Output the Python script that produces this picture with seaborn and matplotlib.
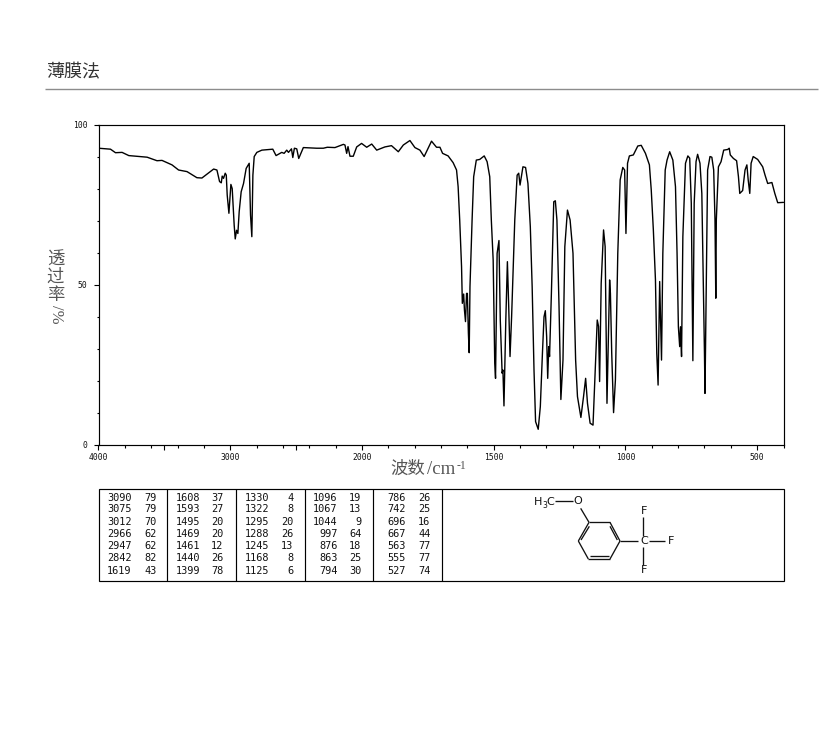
import numpy as np
import matplotlib
matplotlib.use("Agg")
import matplotlib.pyplot as plt
from matplotlib.patches import Rectangle
from matplotlib.ticker import FixedLocator, FixedFormatter
import seaborn as sns

wavenumber = [4000,3909,3871,3821,3770,3631,3556,3518,3442,3392,3328,3253,3215,3177,3126,3101,3081,3068,3061,3051,3038,3030,3023,3010,2995,2985,2970,2962,2952,2942,2932,2917,2899,2879,2856,2846,2836,2828,2818,2798,2760,2677,2652,2609,2591,2571,2558,2535,2525,2513,2495,2480,2445,2344,2293,2263,2205,2141,2129,2116,2106,2091,2066,2040,2003,1982,1963,1944,1932,1913,1888,1862,1843,1818,1799,1780,1764,1736,1717,
1704,1694,1673,1654,1641,1635,1629,1622,1619,1614,1611,1607,1603,1600,1596,1593,1590,1582,1576,1566,1553,1536,1525,1515,1509,1502,1496,1493,1487,1480,1475,1468,1465,1461,1454,1448,1443,1438,1432,1420,1411,1405,1400,1389,1379,1370,1361,1354,1347,1341,1331,1323,1315,1309,1304,1299,1295,1291,1288,1281,1272,1266,1260,1252,1245,1237,1230,1220,1210,1199,1189,1182,1169,1159,1151,1144,1134,1123,1115,1107,1102,1098,1092,1083,1077,1070,1060,1057,1052,1045,1038,1029,1020,1010,1003,998,992,985,970,953,940,
924,909,902,894,886,881,876,870,863,858,849,842,832,820,810,804,799,794,791,787,782,772,763,756,750,744,739,732,726,717,710,705,700,698,694,688,679,672,665,660,657,655,647,637,627,612,606,602,590,578,571,566,555,546,539,534,528,523,515,498,479,470,460,444,433,422,400]

transmittance = [92.6,92.3,91.2,91.3,90.3,89.8,88.7,88.8,87.4,85.8,85.3,83.4,83.3,84.5,86.1,85.8,82.2,81.8,83.9,83.2,84.8,84.2,78,72.3,81.3,80,68.6,64.3,67,66,72.8,79,81.6,86.3,87.9,71.8,65,84.2,90,91.3,92,92.3,90.3,91.3,91,92,91.3,92.4,89.7,92.6,92.4,89.4,92.8,92.6,92.6,92.9,92.8,93.8,93.6,91,93.1,90.1,90.1,93,94.1,92.9,93.9,92,92.4,93,93.4,91.5,93.6,95,92.8,92,90,94.8,92.9,
92.9,91,90.2,88.1,85.8,80.6,70.2,55.6,44.2,47.1,42.1,38.5,47.3,47.3,34.8,28.8,49.4,70.2,83.7,88.9,89.1,90.2,88.4,83.7,70.2,57.7,25.5,20.8,59.8,63.8,39,22.4,23.4,12.2,39,57.2,43.2,27.6,40,70.2,84.2,84.8,81.1,86.8,86.6,81.6,68.1,49.4,23.4,7.3,4.9,12,28.6,40,41.9,33.8,20.8,30.7,27.6,47.3,75.9,76.2,70.2,43.2,14.2,26.5,61.9,73.3,70.2,59.8,26.5,15.1,8.6,15.1,20.8,13,6.8,6.2,22.4,39,37,19.8,50.4,67.1,61.9,13,51.5,47.3,28.6,10.1,20.3,59.8,82.7,86.6,85.8,66,87.9,90.2,90.5,93.3,93.5,
91,87.4,79.6,67.1,51.5,28.6,18.7,51,26.5,59.8,85.8,88.9,91.5,88.9,80.6,59.8,36.9,30.7,36.9,27.6,65,87.9,90.2,89.5,75.4,26.3,75.4,88.4,90.7,87.9,78.5,53.6,28.6,16.1,44.2,85.8,90,89.8,85.8,70.2,45.8,70.2,86.8,88.4,92,92.2,92.6,90.5,89.4,88.7,83.7,78.5,79.4,85.8,87.4,82.7,78.5,87.9,90,89.1,86.8,84.2,81.6,81.9,78.5,75.6,75.7]

x_major = [4000,3500,3000,2500,2000,1500,1000,500]
x_labelled = ["4000","","3000","","2000","1500","1000","500"]
x_minor = [3800,3600,3400,3200,2800,2600,2400,2200,1900,1800,1700,1600,1400,1300,1200,1100,900,800,700,600,400]
y_major = [0,50,100]
y_minor = [10,20,30,40,60,70,80,90]

peak_wn = [[3090,3075,3012,2966,2947,2842,1619],[1608,1593,1495,1469,1461,1440,1399],
           [1330,1322,1295,1288,1245,1168,1125],[1096,1067,1044,997,876,863,794],
           [786,742,696,667,563,555,527]]
peak_t = [[79,79,70,62,62,82,43],[37,27,20,20,12,26,78],[4,8,20,26,13,8,6],
          [19,13,9,64,18,25,30],[26,25,16,44,77,77,74]]

sns.set_style("white")
plt.rcParams['font.family'] = ['Noto Sans CJK SC', 'DejaVu Sans']

W, H = 822, 737
fig = plt.figure(figsize=(W/100, H/100), dpi=100, facecolor="white")
bg = fig.add_axes([0, 0, 1, 1], zorder=0)
bg.set_xlim(0, W); bg.set_ylim(H, 0); bg.axis("off")

ax = fig.add_axes([98.5/W, 1-445/H, 685/W, 320.5/H], zorder=2)
ax.patch.set_alpha(0)

def fwd(w):
    w = np.asarray(w, dtype=float)
    return np.where(w <= 2000, w, 2000 + (w-2000)/2)
def inv(v):
    v = np.asarray(v, dtype=float)
    return np.where(v <= 2000, v, 2000 + (v-2000)*2)
ax.set_xscale("function", functions=(fwd, inv))

sns.lineplot(x=wavenumber, y=transmittance, sort=False, estimator=None, errorbar=None,
             color="#000000", lw=1.0, ax=ax)
ax.set_xlim(4000, 400)
ax.set_ylim(0, 100)
ax.xaxis.set_major_locator(FixedLocator(x_major))
ax.xaxis.set_major_formatter(FixedFormatter(x_labelled))
ax.xaxis.set_minor_locator(FixedLocator(x_minor))
ax.yaxis.set_major_locator(FixedLocator(y_major))
ax.yaxis.set_minor_locator(FixedLocator(y_minor))
ax.tick_params(axis="both", which="major", length=3.6, width=0.8, color="black", bottom=True, left=True,
               labelsize=5.8, labelcolor="#111111")
ax.tick_params(axis="x", which="major", pad=2.5)
ax.tick_params(axis="y", which="major", pad=4.5)
ax.tick_params(axis="both", which="minor", length=1.8, width=0.8, color="black", bottom=True, left=True)
for lab in ax.get_xticklabels() + ax.get_yticklabels():
    lab.set_family("DejaVu Sans Mono")
for s in ax.spines.values():
    s.set_color("black"); s.set_linewidth(0.85); s.set_visible(True)
ax.set_xlabel(""); ax.set_ylabel("")

# header
bg.text(46, 72, "薄膜法", fontsize=13, color="#333333", va="center", ha="left")
bg.plot([45, 818], [88.5, 88.5], color="#8c8c8c", lw=1.0, solid_capstyle="butt")

# y label: stacked characters
for yy, ch in zip([260, 277, 295], "透过率"):
    bg.text(55.5, yy, ch, fontsize=12.5, color="#555555", ha="center", va="center")
bg.text(55.5, 314, "/%", fontsize=12, color="#555555", ha="center", va="center", rotation=-90,
        family="Liberation Serif")

# x label
bg.text(390, 469, "波数", fontsize=12.5, color="#555555", ha="left", va="center")
bg.text(426.5, 469, "/cm", fontsize=13.5, color="#555555", ha="left", va="center", family="Liberation Serif")
bg.text(456.5, 465.5, "-1", fontsize=8.5, color="#555555", ha="left", va="center", family="Liberation Serif")

# peak table
bg.add_patch(Rectangle((98.5, 488.5), 685, 92, fill=False, ec="black", lw=0.85))
for xs in [167.3, 235.5, 304.5, 372.7, 441.5]:
    bg.plot([xs, xs], [488.5, 580.5], color="black", lw=0.85, solid_capstyle="butt")
rows_y = [497.5, 509.5, 521.7, 534, 546, 558, 570.5]
wn_right = [131.5, 200, 269, 337.5, 405.5]
t_right = [156.5, 223.5, 293.5, 361.5, 430.5]
for c in range(5):
    for r in range(7):
        bg.text(wn_right[c], rows_y[r], str(peak_wn[c][r]), family="DejaVu Sans Mono", fontsize=7.4,
                ha="right", va="center", color="#111111")
        bg.text(t_right[c], rows_y[r], str(peak_t[c][r]), family="DejaVu Sans Mono", fontsize=7.4,
                ha="right", va="center", color="#111111")

# structure
def px(X, Y):
    return 500 + X/3, 485 + Y/3
def seg(a, b, lw=0.95):
    (x0, y0), (x1, y1) = px(*a), px(*b)
    bg.plot([x0, x1], [y0, y1], color="#111111", lw=lw, solid_capstyle="butt")
def lab(X, Y, s, fs=8):
    x, y = px(X, Y)
    bg.text(x, y, s, fontsize=fs, family="DejaVu Sans", ha="center", va="center", color="#111111")
ring = [(267,112),(330,112),(360,168),(330,222),(265,222),(235,168),(267,112)]
for a, b in zip(ring[:-1], ring[1:]):
    seg(a, b)
seg((330,124),(352,165)); seg((270,213),(328,213)); seg((243,165),(268,124))
seg((165,48),(218,48)); seg((242,70),(267,112))
seg((360,168),(415,168)); seg((448,168),(495,168))
seg((430,95),(430,152)); seg((430,185),(430,240))
lab(113,50,"H"); lab(134,60,"3",5.5); lab(152,50,"C"); lab(232,48,"O")
lab(432,168,"C"); lab(513,168,"F"); lab(432,78,"F"); lab(432,255,"F")

fig.savefig("out.png", dpi=100, facecolor="white")
